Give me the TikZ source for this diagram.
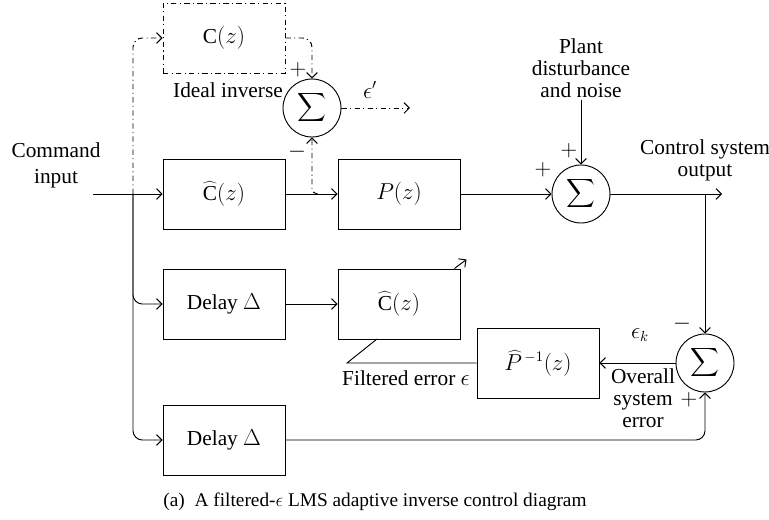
\documentclass[tikz,border=0pt]{standalone}
\usepackage{graphicx}
\usepackage{fontspec}
\setmainfont{Liberation Serif}
\usetikzlibrary{
    positioning,    % relative placement
    arrows.meta,    % open arrow tips
    calc            % coordinate arithmetic
}
\tikzset{
    block/.style={
        rectangle, draw, minimum width=91.5pt, minimum height=52.5pt,
        align=center, inner sep=2pt
    },
    summer/.style={
        circle, draw, minimum size=43.5pt, inner sep=0pt
    },
    arrow/.style={
        -{Straight Barb[length=4pt,width=8pt]}
    },
    dashdot/.style={
        dash pattern=on 4pt off 2.5pt on 0.8pt off 2.5pt
    },
    tag/.style={
        align=center, inner sep=1pt
    }
}
\newcommand{\sumsign}{\scalebox{1.5}{$\displaystyle\sum$}}
\begin{document}
\begin{tikzpicture}[x=0.75pt, y=-0.75pt, line width=0.7pt,
    font=\fontsize{16}{16.5}\selectfont]

    \useasboundingbox (0,0) rectangle (769,520);

    % Bloques
    \node[block, dashdot] (ideal) at (224,38)  {C$(z)$};
    \node[block]          (chat)  at (224,194) {$\widehat{\mathrm{C}}(z)$};
    \node[block]          (plant) at (399,194) {$P(z)$};
    \node[block]          (delayA) at (224,304) {Delay $\Delta$};
    \node[block]          (chatB) at (399,304) {$\widehat{\mathrm{C}}(z)$};
    \node[block]          (pinv)  at (538,363) {$\widehat{P}^{\,-1}(z)$};
    \node[block]          (delayB) at (224,440) {Delay $\Delta$};

    % Sumadores
    \node[summer] (sumA) at (312,108) {\sumsign};
    \node[summer] (sumB) at (581,194) {\sumsign};
    \node[summer] (sumC) at (705,363) {\sumsign};

    % Puntos auxiliares
    \coordinate (cmd)    at (93,194);
    \coordinate (split)  at (133,194);
    \coordinate (tapA)   at (318,194);
    \coordinate (epsend) at (410,108);
    \coordinate (dist)   at (581,100);
    \coordinate (outend) at (722,194);
    \coordinate (branch) at (705,194);
    \coordinate (fbend)  at (347,363);
    \coordinate (fend)   at (377,339);

    % Camino principal
    \draw[arrow] (cmd) -- (chat.west);
    \draw[arrow] (chat.east) -- (plant.west);
    \draw[arrow] (plant.east) -- (sumB.west);
    \draw[arrow] (dist) -- (sumB.north);
    \draw[arrow] (sumB.east) -- (outend);
    \draw[arrow] (branch) -- (sumC.north);
    \draw[arrow, rounded corners=7pt] (split) |- (delayA.west);
    \draw[arrow, rounded corners=7pt] (split) |- (delayB.west);
    \draw[arrow] (delayA.east) -- (chatB.west);
    \draw[arrow, rounded corners=7pt] (delayB.east) -| (sumC.south);
    \draw[arrow] (sumC.west) -- (pinv.east);
    \draw (pinv.west) -- (fbend) -- (fend);
    \draw[arrow] ($(chatB.north east)+(-6,0)$) -- ++(12,-9);

    % Inversa ideal (punto y raya)
    \draw[arrow, dashdot, rounded corners=7pt] (split) |- (ideal.west);
    \draw[arrow, dashdot, rounded corners=7pt] (ideal.east) -| (sumA.north);
    \draw[arrow, dashdot, rounded corners=4pt] (tapA) -| (sumA.south);
    \draw[arrow, dashdot] (sumA.east) -- (epsend);

    % Etiquetas
    \node[tag, font=\fontsize{16}{19.5}\selectfont] (cmdlbl) at (56,165) {Command\\input};
    \node[tag] (ideallbl) at (228,90) {Ideal inverse};
    \node[tag] (plusA) at (298,70) {$+$};
    \node[tag] (minusA) at (297,152) {$-$};
    \node[tag] (epsA) at (370,90) {$\epsilon'$};
    \node[tag] (distlbl) at (581,68) {Plant\\disturbance\\and noise};
    \node[tag] (plusB) at (569,151) {$+$};
    \node[tag] (plusC) at (543,170) {$+$};
    \node[tag] (outlbl) at (705,160) {Control system\\output};
    \node[tag] (minusC) at (682,324) {$-$};
    \node[tag] (epsk) at (640,335) {$\epsilon_k$};
    \node[tag] (errlbl) at (643,398) {Overall\\system\\error};
    \node[tag] (plusD) at (689,400) {$+$};
    \node[tag] (filtlbl) at (406,378) {Filtered error $\epsilon$};

    % Pie
    \node[tag, font=\fontsize{14.5}{16}\selectfont] (caption) at (375,502)
        {(a)\ \ A filtered-$\epsilon$ LMS adaptive inverse control diagram};

\end{tikzpicture}
\end{document}
